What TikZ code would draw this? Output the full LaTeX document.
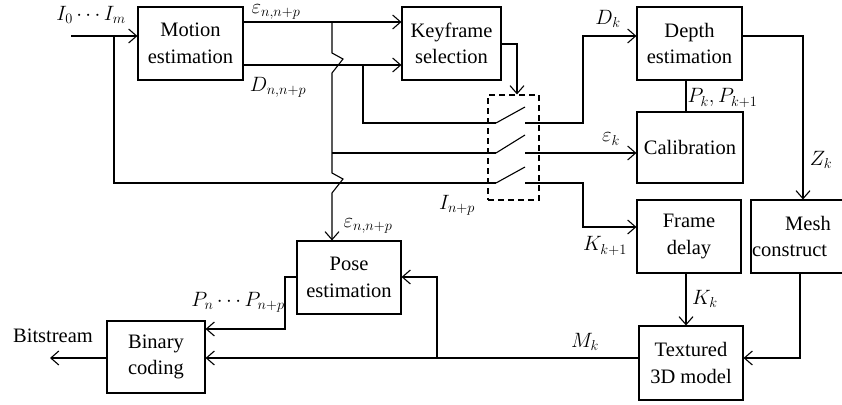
\documentclass[tikz,border=0pt]{standalone}
\usepackage{fontspec}
\setmainfont{Liberation Serif}
\usetikzlibrary{arrows.meta}
\begin{document}
\begin{tikzpicture}[x=1pt,y=-1pt,
  line width=1.1pt,
  blk/.style={draw, align=center, inner sep=0pt, font=\fontsize{20.5}{26.5}\selectfont},
  lab/.style={inner sep=0pt, font=\fontsize{20.5}{24}\selectfont},
  arr/.style={-{Straight Barb[length=8pt,width=14pt]}},
  switchbox/.style={draw, dash pattern=on 6pt off 4pt, minimum width=51pt, minimum height=105pt, inner sep=0pt},
  sarm/.style={line width=1.1pt}]
\useasboundingbox (0,0) rectangle (842,404);
\clip (0,0) rectangle (842,404);

% processing blocks
\node[blk, minimum width=105pt, minimum height=73pt] (motion) at (190.5,43.5) {Motion\\estimation};
\node[blk, minimum width=99pt,  minimum height=73pt] (key)    at (451.5,43.5) {Keyframe\\selection};
\node[blk, minimum width=105pt, minimum height=73pt] (depth)  at (689.5,43.5) {Depth\\estimation};
\node[blk, minimum width=106pt, minimum height=71pt] (calib)  at (690,147.5)  {Calibration};
\node[blk, minimum width=104pt, minimum height=73pt] (frame)  at (689,236.5)  {Frame\\delay};
\node[blk, minimum width=114pt, minimum height=73pt] (mesh)   at (808,236.5)  {Mesh\\\makebox[112pt][l]{construct}};
\node[blk, minimum width=104pt, minimum height=74pt] (tex)    at (691,363)    {Textured\\3D model};
\node[blk, minimum width=104pt, minimum height=73pt] (pose)   at (349,277.5)  {Pose\\estimation};
\node[blk, minimum width=98pt,  minimum height=72pt] (binary) at (156,357)    {Binary\\coding};

% three-way switch
\node[switchbox] (sw) at (513.5,147.5) {};

% helper coordinates
\coordinate (inS) at (71,36);
\coordinate (inJ) at (114,36);
\coordinate (yE)  at (0,22);
\coordinate (yD)  at (0,65);
\coordinate (jE)  at (332,22);
\coordinate (jD)  at (363,65);
\coordinate (r1)  at (496,123);
\coordinate (r2)  at (496,153);
\coordinate (r3)  at (496,183);
\coordinate (o1)  at (525,123);
\coordinate (o2)  at (525,153);
\coordinate (o3)  at (525,183);
\coordinate (bitOut) at (50,358);
\coordinate (mJ)  at (437,358);

% input
\draw[arr] (inS) -- (inS -| motion.west);
\draw (inJ) -- (114,183) -- (r3);

% motion estimation outputs
\draw[arr] (motion.east |- yE) -- (key.west |- yE);
\draw[arr] (motion.east |- yD) -- (key.west |- yD);

% epsilon feed with line jumps
\draw[arr] (jE) -- (332,53) -- (343,59) -- (332,73) -- (332,173) -- (343,179) -- (332,193) -- (pose.north -| jE);
\draw (332,153) -- (r2);
\draw (jD) -- (363,123) -- (r1);

% keyframe selection drives the switch
\draw[arr] (key.east |- 0,44) -- (517,44) -- (sw.north -| 517,0);

% switch arms
\draw[sarm] (r1) -- (525,107);
\draw[sarm] (r2) -- (525,135);
\draw[sarm] (r3) -- (525,167);

% switch outputs
\draw[arr] (o1) -- (583,123) -- (583,36) -- (depth.west |- 0,36);
\draw[arr] (o2) -- (calib.west |- o2);
\draw[arr] (o3) -- (583,183) -- (583,227) -- (frame.west |- 0,227);

% right-hand chain
\draw (depth.south -| 686,0) -- (calib.north -| 686,0);
\draw[arr] (depth.east |- 0,36) -- (803,36) -- (mesh.north -| 803,0);
\draw[arr] (frame.south -| 686,0) -- (tex.north -| 686,0);
\draw[arr] (mesh.south -| 800,0) -- (800,358) -- (tex.east |- 0,358);

% back to coding
\draw[arr] (tex.west |- 0,358) -- (binary.east |- 0,358);
\draw[arr] (mJ) -- (437,277) -- (pose.east |- 0,277);
\draw[arr] (pose.west |- 0,277) -- (285,277) -- (285,329) -- (binary.east |- 0,329);
\draw[arr] (binary.west |- 0,358) -- (bitOut);

% labels
\node[lab] (lI)   at (91,15)   {$I_0\cdots I_m$};
\node[lab, anchor=south] (lE) at (276,20) {$\varepsilon_{n,n+p}$};
\node[lab] (lD)   at (278,87)  {$D_{n,n+p}$};
\node[lab] (lDk)  at (608,19)  {$D_k$};
\node[lab] (lEk)  at (611,139) {$\varepsilon_k$};
\node[lab, anchor=west] (lP) at (687,98) {$P_k, P_{k+1}$};
\node[lab] (lZ)   at (821,160) {$Z_k$};
\node[lab] (lIn)  at (457,205) {$I_{n+p}$};
\node[lab] (lE2)  at (368,226) {$\varepsilon_{n,n+p}$};
\node[lab] (lK1)  at (605,246) {$K_{k+1}$};
\node[lab] (lK)   at (705,299) {$K_k$};
\node[lab] (lM)   at (585,342) {$M_k$};
\node[lab] (lPn)  at (238,302) {$P_n\cdots P_{n+p}$};
\node[lab] (lB)   at (53,336)  {Bitstream};
\end{tikzpicture}
\end{document}
